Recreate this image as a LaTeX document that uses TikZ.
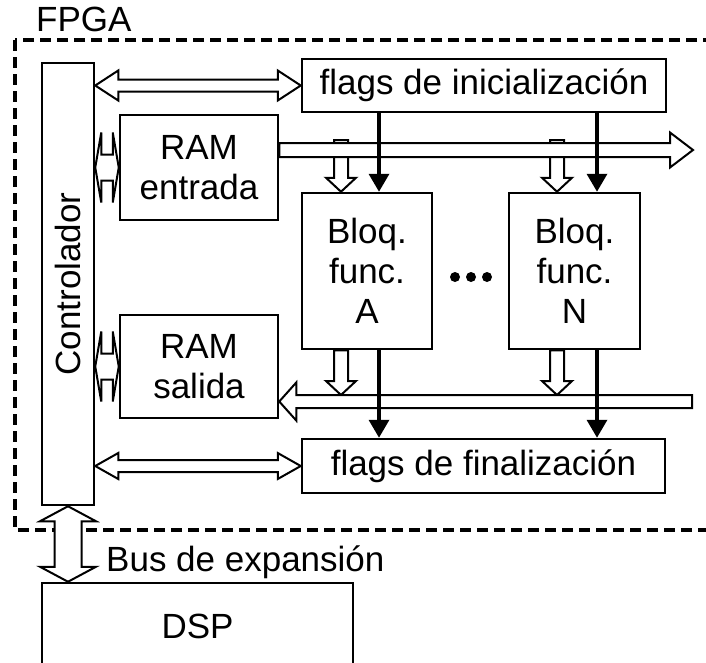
\documentclass[tikz,border=0pt]{standalone}
\usepackage{fontspec}
\setmainfont{Liberation Sans}
\usetikzlibrary{calc,arrows.meta}
\pgfdeclarelayer{edgelayer}
\pgfdeclarelayer{nodelayer}
\pgfsetlayers{edgelayer,nodelayer,main}
\newcommand{\bigtxt}{\fontsize{35}{40}\selectfont}
\tikzstyle{block}=[draw=black, line width=2.5pt, inner sep=0pt, align=center, font=\bigtxt]
\tikzstyle{txt}=[inner sep=0pt, font=\bigtxt]
\tikzstyle{bus}=[draw=black, fill=white, line width=2pt, line join=miter]
\tikzstyle{flag}=[draw=black, line width=3.5pt, -{Triangle[length=18pt,width=20pt]}]
\tikzstyle{fpga}=[draw=black, line width=4pt, dash pattern=on 11pt off 6pt]

% hollow arrow: start, tip, half shaft, half head, head length
\newcommand{\busarrow}[5]{%
  \draw[bus] let \p1=#1, \p2=#2, \n1={atan2((\y2)-(\y1),(\x2)-(\x1))}, \n2={veclen((\x2)-(\x1),(\y2)-(\y1))} in
    ($(\p1)+({\n1+90}:#3)$) -- ($(\p1)+(\n1:{\n2*1pt-#5})+({\n1+90}:#3)$)
    -- ($(\p1)+(\n1:{\n2*1pt-#5})+({\n1+90}:#4)$) -- (\p2)
    -- ($(\p1)+(\n1:{\n2*1pt-#5})+({\n1-90}:#4)$) -- ($(\p1)+(\n1:{\n2*1pt-#5})+({\n1-90}:#3)$)
    -- ($(\p1)+({\n1-90}:#3)$) -- cycle;}
% same, with a head on both ends
\newcommand{\busdarrow}[5]{%
  \draw[bus] let \p1=#1, \p2=#2, \n1={atan2((\y2)-(\y1),(\x2)-(\x1))}, \n2={veclen((\x2)-(\x1),(\y2)-(\y1))} in
    (\p1) -- ($(\p1)+(\n1:#5)+({\n1+90}:#4)$) -- ($(\p1)+(\n1:#5)+({\n1+90}:#3)$)
    -- ($(\p1)+(\n1:{\n2*1pt-#5})+({\n1+90}:#3)$) -- ($(\p1)+(\n1:{\n2*1pt-#5})+({\n1+90}:#4)$)
    -- (\p2) -- ($(\p1)+(\n1:{\n2*1pt-#5})+({\n1-90}:#4)$) -- ($(\p1)+(\n1:{\n2*1pt-#5})+({\n1-90}:#3)$)
    -- ($(\p1)+(\n1:#5)+({\n1-90}:#3)$) -- ($(\p1)+(\n1:#5)+({\n1-90}:#4)$) -- cycle;}

\begin{document}
\begin{tikzpicture}[x=1pt, y=-1pt]
			\useasboundingbox (0,0) rectangle (706,662);
			\clip (0,0) rectangle (706,662);
			\begin{pgfonlayer}{nodelayer}
			\node [block, minimum width=52pt, minimum height=442pt] (ctrl) at (68,284) {};
			\node [txt, rotate=90] (ctrltxt) at (ctrl) {Controlador};
			\node [block, minimum width=364pt, minimum height=53pt] (init) at (484,85.5) {flags de inicialización};
			\node [block, minimum width=158pt, minimum height=105pt] (ramin) at (199,167.5) {RAM\\entrada};
			\node [block, minimum width=158pt, minimum height=103pt] (ramout) at (199,366.5) {RAM\\salida};
			\node [block, minimum width=130pt, minimum height=156pt] (blkA) at (367,271) {Bloq.\\func.\\A};
			\node [block, minimum width=131pt, minimum height=156pt] (blkN) at (574.5,271) {Bloq.\\func.\\N};
			\node [block, minimum width=363pt, minimum height=54pt] (fin) at (483.5,466) {flags de finalización};
			\node [block, minimum width=311pt, minimum height=87pt] (dsp) at (197.5,626.5) {DSP};
			\node [txt, anchor=west] (fpgatxt) at (36,19) {FPGA};
			\node [txt, anchor=west] (bustxt) at (106,562) {Bus de expansión};
			\foreach \x in {455,471,487}
				\fill (\x,277) circle (5pt);
			\end{pgfonlayer}
			\begin{pgfonlayer}{edgelayer}
			\draw [fpga] (15,40) rectangle (716,530);
			\coordinate (xa1) at (341,0);
			\coordinate (xa2) at (379,0);
			\coordinate (xn1) at (557,0);
			\coordinate (xn2) at (597,0);
			\coordinate (bus1) at (ramin.east |- 0,150);
			\coordinate (bus2) at (693,150);
			\coordinate (ret1) at (692,401.5);
			\coordinate (ret2) at (ramout.east |- ret1);
			% controller links
			\busdarrow{(ctrl.east |- init.west)}{(init.west)}{6pt}{15pt}{23pt}
			\busdarrow{(ctrl.east |- ramin.west)}{(ramin.west)}{13pt}{35pt}{6pt}
			\busdarrow{(ctrl.east |- ramout.west)}{(ramout.west)}{13pt}{35pt}{6pt}
			\busdarrow{(ctrl.east |- fin.west)}{(fin.west)}{6pt}{13pt}{23pt}
			\busdarrow{(ctrl.south)}{(dsp.north -| ctrl.south)}{13.5pt}{28pt}{15pt}
			% input bus
			\busarrow{(xa1 |- 0,140)}{(blkA.north -| xa1)}{7pt}{15pt}{14pt}
			\busarrow{(xn1 |- 0,140)}{(blkN.north -| xn1)}{7pt}{15pt}{14pt}
			\busarrow{(bus1)}{(bus2)}{7pt}{17.5pt}{23pt}
			% output bus
			\busarrow{(blkA.south -| xa1)}{(xa1 |- 0,395)}{7pt}{15pt}{14pt}
			\busarrow{(blkN.south -| xn1)}{(xn1 |- 0,395)}{7pt}{15pt}{14pt}
			\busarrow{(ret1)}{(ret2)}{6.5pt}{19pt}{17pt}
			% flags
			\draw [flag] (init.south -| xa2) to (blkA.north -| xa2);
			\draw [flag] (init.south -| xn2) to (blkN.north -| xn2);
			\draw [flag] (blkA.south -| xa2) to (fin.north -| xa2);
			\draw [flag] (blkN.south -| xn2) to (fin.north -| xn2);
			\end{pgfonlayer}
\end{tikzpicture}
\end{document}
